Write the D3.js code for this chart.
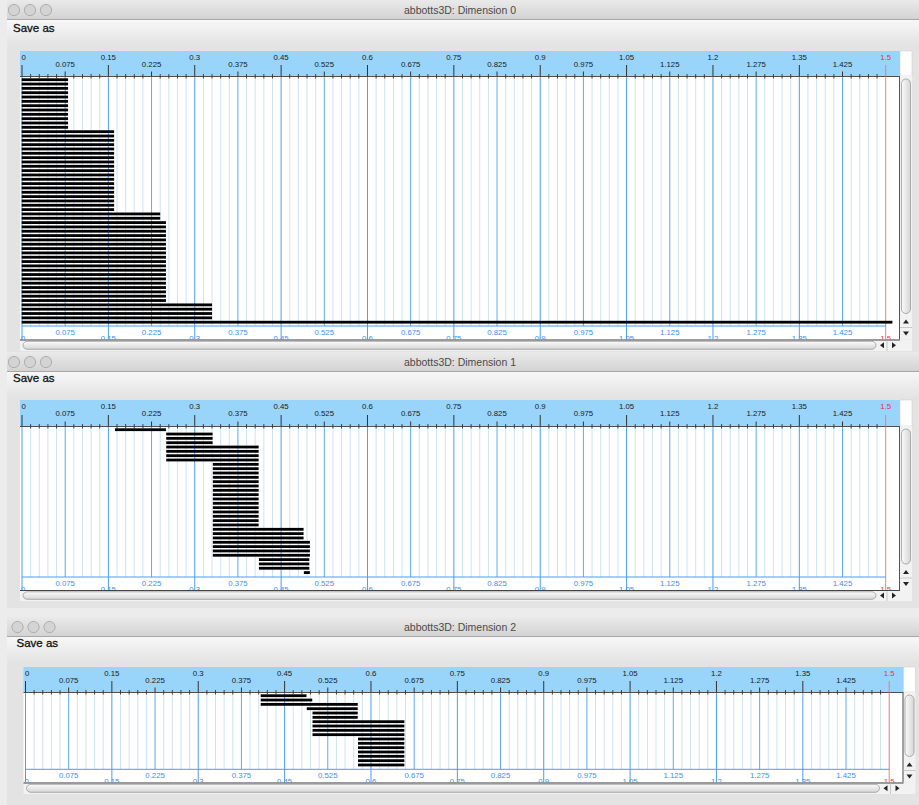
<!DOCTYPE html>
<html><head><meta charset="utf-8">
<script src="https://cdn.jsdelivr.net/npm/d3@7"></script>
<style>
html,body{margin:0;padding:0;background:#ececec;}
svg{display:block;}
text{font-family:"Liberation Sans",Arial,sans-serif;}
</style></head><body>
<svg id="c" width="919" height="805"></svg>
<script>
// ---------- data ----------
const titles = ["abbotts3D: Dimension 0", "abbotts3D: Dimension 1", "abbotts3D: Dimension 2"];
const majorTicks = [0, 0.15, 0.3, 0.45, 0.6, 0.75, 0.9, 1.05, 1.2, 1.35, 1.5];
const majorLabels = ["0", "0.15", "0.3", "0.45", "0.6", "0.75", "0.9", "1.05", "1.2", "1.35", "1.5"];
const midTicks = [0.075, 0.225, 0.375, 0.525, 0.675, 0.825, 0.975, 1.125, 1.275, 1.425];
const midLabels = ["0.075", "0.225", "0.375", "0.525", "0.675", "0.825", "0.975", "1.125", "1.275", "1.425"];

const dim0Birth = [0,0,0,0,0,0,0,0,0,0,0,0, 0,0,0,0,0,0,0,0,0,0,0,0,0,0,0,0,0,0,0, 0,0, 0,0,0,0,0,0,0,0,0,0,0,0,0,0,0,0,0,0,0, 0,0,0,0, 0];
const dim0Death = [0.08,0.08,0.08,0.08,0.08,0.08,0.08,0.08,0.08,0.08,0.08,0.08,
  0.16,0.16,0.16,0.16,0.16,0.16,0.16,0.16,0.16,0.16,0.16,0.16,0.16,0.16,0.16,0.16,0.16,0.16,0.16,
  0.24,0.24,
  0.25,0.25,0.25,0.25,0.25,0.25,0.25,0.25,0.25,0.25,0.25,0.25,0.25,0.25,0.25,0.25,0.25,0.25,0.25,
  0.33,0.33,0.33,0.33,
  Infinity];

const dim1Birth = [0.162,
  0.251,0.251,0.251,
  0.251,0.251,0.251,0.251,
  0.332,0.332,0.332,0.332,0.332,0.332,0.332,0.332,0.332,0.332,0.332,0.332,0.332,0.332,0.332,
  0.332,0.332,0.332,
  0.332,0.332,0.332,0.332,
  0.412,0.412,0.412,
  0.49];
const dim1Death = [0.25,
  0.331,0.331,0.331,
  0.411,0.411,0.411,0.411,
  0.411,0.411,0.411,0.411,0.411,0.411,0.411,0.411,0.411,0.411,0.411,0.411,0.411,0.411,0.411,
  0.489,0.489,0.489,
  0.5,0.5,0.5,0.5,
  0.499,0.499,0.499,
  0.5];

const dim2Birth = [0.409,0.409,0.409, 0.489, 0.499,0.499, 0.499,0.499,0.499,0.499, 0.578,0.578,0.578,0.578,0.578,0.578,0.578];
const dim2Death = [0.488,0.498,0.577, 0.577, 0.577,0.577, 0.658,0.658,0.658,0.658, 0.658,0.658,0.658,0.658,0.658,0.658,0.658];

// ---------- layout ----------
const layouts = [
  {wy:0,   wh:352, titleY:10,  saveY:31.5, dx:0,   bandTop:51,  bandBottom:76,  bottomLine:326,   plotBottom:339.5, hsBottom:351},
  {wy:352, wh:256, titleY:362, saveY:381.5, dx:0,  bandTop:400, bandBottom:426, bottomLine:577,   plotBottom:590,   hsBottom:601},
  {wy:617, wh:190, titleY:627, saveY:647, dx:3.5,  bandTop:667, bandBottom:692, bottomLine:769.3, plotBottom:782.5, hsBottom:794}
];
const births = [dim0Birth, dim1Birth, dim2Birth];
const deaths = [dim0Death, dim1Death, dim2Death];

const svg = d3.select("#c");
const defs = svg.append("defs");
function grad(id, stops, horiz) {
  const lg = defs.append("linearGradient").attr("id", id).attr("x1", 0).attr("y1", 0)
    .attr("x2", horiz ? 1 : 0).attr("y2", horiz ? 0 : 1);
  stops.forEach(([o, c]) => lg.append("stop").attr("offset", o).attr("stop-color", c));
}
grad("tbar", [["0%", "#eaeaea"], ["100%", "#d3d3d3"]]);
grad("tool", [["0%", "#f7f7f7"], ["100%", "#e3e3e3"]]);
grad("thumb", [["0%", "#fbfbfb"], ["100%", "#d6d6d6"]]);
grad("thumbv", [["0%", "#fbfbfb"], ["100%", "#d6d6d6"]], true);

svg.append("rect").attr("width",919).attr("height",805).attr("fill","#ececec");

const minorTicks = d3.range(0, 101).map(i => +(i * 0.015).toFixed(3));

layouts.forEach((L, wi) => {
  const g = svg.append("g");
  const dx = L.dx;
  const x = d3.scaleLinear().domain([0, 1.5]).range([22 + dx, 885.7 + dx]);
  const panelL = 20 + dx, panelR = 900 + dx;
  const y = d3.scaleLinear().domain([0, 1]).range([L.bandBottom + 3.7, L.bandBottom + 3.7 + 4.33]);

  // window body
  g.append("rect").attr("x", 7).attr("y", L.wy).attr("width", 912).attr("height", L.wh).attr("fill", "#e3e3e3");
  g.append("rect").attr("x", 7).attr("y", L.wy).attr("width", 912).attr("height", 19).attr("fill", "url(#tbar)");
  g.append("line").attr("x1",7).attr("x2",919).attr("y1",L.wy+19.5).attr("y2",L.wy+19.5).attr("stroke","#a8a8a8");
  g.append("rect").attr("x", 7).attr("y", L.wy + 20).attr("width", 912).attr("height", 26).attr("fill", "url(#tool)");
  [14, 30, 46].forEach(cx => {
    g.append("circle").attr("cx", cx + dx).attr("cy", L.wy + 10).attr("r", 5.6)
      .attr("fill", "#d4d4d4").attr("stroke", "#a2a2a2").attr("stroke-width", 0.8);
  });
  g.append("text").attr("x", 460).attr("y", L.titleY + 3.8).attr("text-anchor", "middle")
    .attr("font-size", 10.5).attr("fill", "#4a4a4a").text(titles[wi]);
  g.append("text").attr("x", 13 + dx).attr("y", L.saveY).attr("font-size", 11.5).attr("fill", "#111")
    .attr("stroke", "#111").attr("stroke-width", 0.3).text("Save as");

  // panel
  g.append("rect").attr("x", panelL).attr("y", L.bandTop).attr("width", panelR - panelL).attr("height", L.bandBottom - L.bandTop).attr("fill", "#99d5fa");
  g.append("rect").attr("x", panelL).attr("y", L.bandBottom).attr("width", panelR - panelL - 1).attr("height", L.plotBottom - L.bandBottom).attr("fill", "#ffffff");
  g.append("rect").attr("x", panelR).attr("y", L.bandTop).attr("width", 12).attr("height", L.bandBottom - L.bandTop).attr("fill", "#ffffff").attr("stroke","#cfcfcf").attr("stroke-width",0.6);

  const clipId = "clip" + wi;
  defs.append("clipPath").attr("id", clipId).append("rect")
    .attr("x", panelL).attr("y", L.bandBottom).attr("width", panelR - panelL - 1).attr("height", L.plotBottom - L.bandBottom);
  const pg = g.append("g").attr("clip-path", `url(#${clipId})`);

  const isMajor = v => majorTicks.some(m => Math.abs(m - v) < 1e-6);
  const isMid = v => midTicks.some(m => Math.abs(m - v) < 1e-6);
  const minorOnly = minorTicks.filter(v => !isMajor(v) && !isMid(v));

  // grid
  pg.append("g").selectAll("line").data(minorOnly).join("line")
    .attr("x1", d => x(d)).attr("x2", d => x(d)).attr("y1", L.bandBottom).attr("y2", L.bottomLine)
    .attr("stroke", "#cfe2f1").attr("stroke-width", 1);
  pg.append("g").selectAll("line").data(midTicks).join("line")
    .attr("x1", d => x(d)).attr("x2", d => x(d)).attr("y1", L.bandBottom).attr("y2", L.bottomLine)
    .attr("stroke", "#5aa9f6").attr("stroke-width", 1);
  pg.append("g").selectAll("line").data(majorTicks).join("line")
    .attr("x1", d => x(d)).attr("x2", d => x(d)).attr("y1", L.bandBottom).attr("y2", L.plotBottom)
    .attr("stroke", d => d === 1.5 ? "#f37c7c" : "#4a9df5").attr("stroke-width", 1);
  pg.append("line").attr("x1", x(0)).attr("x2", x(1.5)).attr("y1", L.bottomLine).attr("y2", L.bottomLine)
    .attr("stroke", "#4a9df5").attr("stroke-width", 1);

  // bottom labels
  pg.append("g").selectAll("text").data(midTicks).join("text")
    .attr("x", d => x(d)).attr("y", L.bottomLine + 8.6).attr("text-anchor", "middle")
    .attr("font-size", 7.8).attr("fill", "#3d8ef0").text((d, i) => midLabels[i]);
  pg.append("g").selectAll("text").data(majorTicks).join("text")
    .attr("x", d => d === 0 ? x(d) - 1 : x(d)).attr("y", L.bottomLine + 15).attr("text-anchor", d => d === 0 ? "start" : "middle")
    .attr("font-size", 7.8).attr("fill", d => d === 1.5 ? "#e8303c" : "#3d8ef0").text((d, i) => majorLabels[i]);

  // bars
  const rows = births[wi].map((b, i) => ({i, b, d: deaths[wi][i]}));
  pg.append("g").selectAll("rect").data(rows).join("rect")
    .attr("x", r => x(r.b) - 0.3)
    .attr("y", r => y(r.i) - 1.4)
    .attr("width", r => (r.d === Infinity ? x.range()[1] + 6.7 : x(r.d)) - x(r.b) + 0.3)
    .attr("height", 2.8)
    .attr("fill", "#000");

  // band bottom border + ticks
  g.append("line").attr("x1", panelL).attr("x2", panelR).attr("y1", L.bandBottom + 0.5).attr("y2", L.bandBottom + 0.5).attr("stroke", "#4f4f4f");
  g.append("g").selectAll("line").data(minorOnly).join("line")
    .attr("x1", d => x(d)).attr("x2", d => x(d)).attr("y1", L.bandBottom - 2).attr("y2", L.bandBottom + 2.5)
    .attr("stroke", "#333").attr("stroke-width", 0.9);
  g.append("g").selectAll("line").data(midTicks).join("line")
    .attr("x1", d => x(d)).attr("x2", d => x(d)).attr("y1", L.bandBottom - 4.5).attr("y2", L.bandBottom + 0.5)
    .attr("stroke", "#333").attr("stroke-width", 1);
  g.append("g").selectAll("line").data(majorTicks).join("line")
    .attr("x1", d => x(d)).attr("x2", d => x(d)).attr("y1", L.bandBottom - 11).attr("y2", L.bandBottom + 0.5)
    .attr("stroke", d => d === 1.5 ? "#f07878" : "#333").attr("stroke-width", 1);

  // top labels
  g.append("g").selectAll("text").data(majorTicks).join("text")
    .attr("x", d => d === 0 ? x(d) - 0.5 : x(d)).attr("y", L.bandTop + 9.2).attr("text-anchor", d => d === 0 ? "start" : "middle")
    .attr("font-size", 7.8).attr("fill", d => d === 1.5 ? "#e8303c" : "#1a1a1a").text((d, i) => majorLabels[i]);
  g.append("g").selectAll("text").data(midTicks).join("text")
    .attr("x", d => x(d)).attr("y", L.bandTop + 16).attr("text-anchor", "middle")
    .attr("font-size", 7.8).attr("fill", "#1a1a1a").text((d, i) => midLabels[i]);

  // vertical scrollbar
  g.append("rect").attr("x", panelR).attr("y", L.bandBottom).attr("width", 12).attr("height", L.plotBottom - L.bandBottom)
    .attr("fill", "#f2f2f2");
  g.append("line").attr("x1", panelR - 0.5).attr("x2", panelR - 0.5).attr("y1", L.bandBottom).attr("y2", L.plotBottom).attr("stroke", "#555");
  g.append("rect").attr("x", panelR + 1.5).attr("y", L.bandBottom + 3).attr("width", 9).attr("height", L.plotBottom - L.bandBottom - 29)
    .attr("rx", 4.5).attr("fill", "url(#thumbv)").attr("stroke", "#9a9a9a").attr("stroke-width", 0.8);
  g.append("path").attr("d", `M${panelR+6},${L.plotBottom-20} l3,4 h-6 z`).attr("fill", "#222");
  g.append("path").attr("d", `M${panelR+6},${L.plotBottom-4} l3,-4 h-6 z`).attr("fill", "#222");
  g.append("line").attr("x1", panelR).attr("x2", panelR + 12).attr("y1", L.plotBottom - 12).attr("y2", L.plotBottom - 12).attr("stroke", "#c8c8c8");

  // horizontal scrollbar
  g.append("rect").attr("x", panelL).attr("y", L.plotBottom).attr("width", panelR - panelL + 12).attr("height", L.hsBottom - L.plotBottom)
    .attr("fill", "#f2f2f2");
  g.append("line").attr("x1", panelL).attr("x2", panelR).attr("y1", L.plotBottom + 0.5).attr("y2", L.plotBottom + 0.5).attr("stroke", "#444");
  g.append("rect").attr("x", panelL + 3).attr("y", L.plotBottom + 1.8).attr("width", 853).attr("height", L.hsBottom - L.plotBottom - 3.5)
    .attr("rx", 4.5).attr("fill", "url(#thumb)").attr("stroke", "#9a9a9a").attr("stroke-width", 0.8);
  const ay = (L.plotBottom + L.hsBottom) / 2;
  g.append("path").attr("d", `M${880+dx},${ay} l4,-3 v6 z`).attr("fill", "#222");
  g.append("path").attr("d", `M${896+dx},${ay} l-4,-3 v6 z`).attr("fill", "#222");
  g.append("line").attr("x1", 887 + dx).attr("x2", 887 + dx).attr("y1", L.plotBottom + 1).attr("y2", L.hsBottom).attr("stroke", "#c8c8c8");
});
</script>
</body></html>
